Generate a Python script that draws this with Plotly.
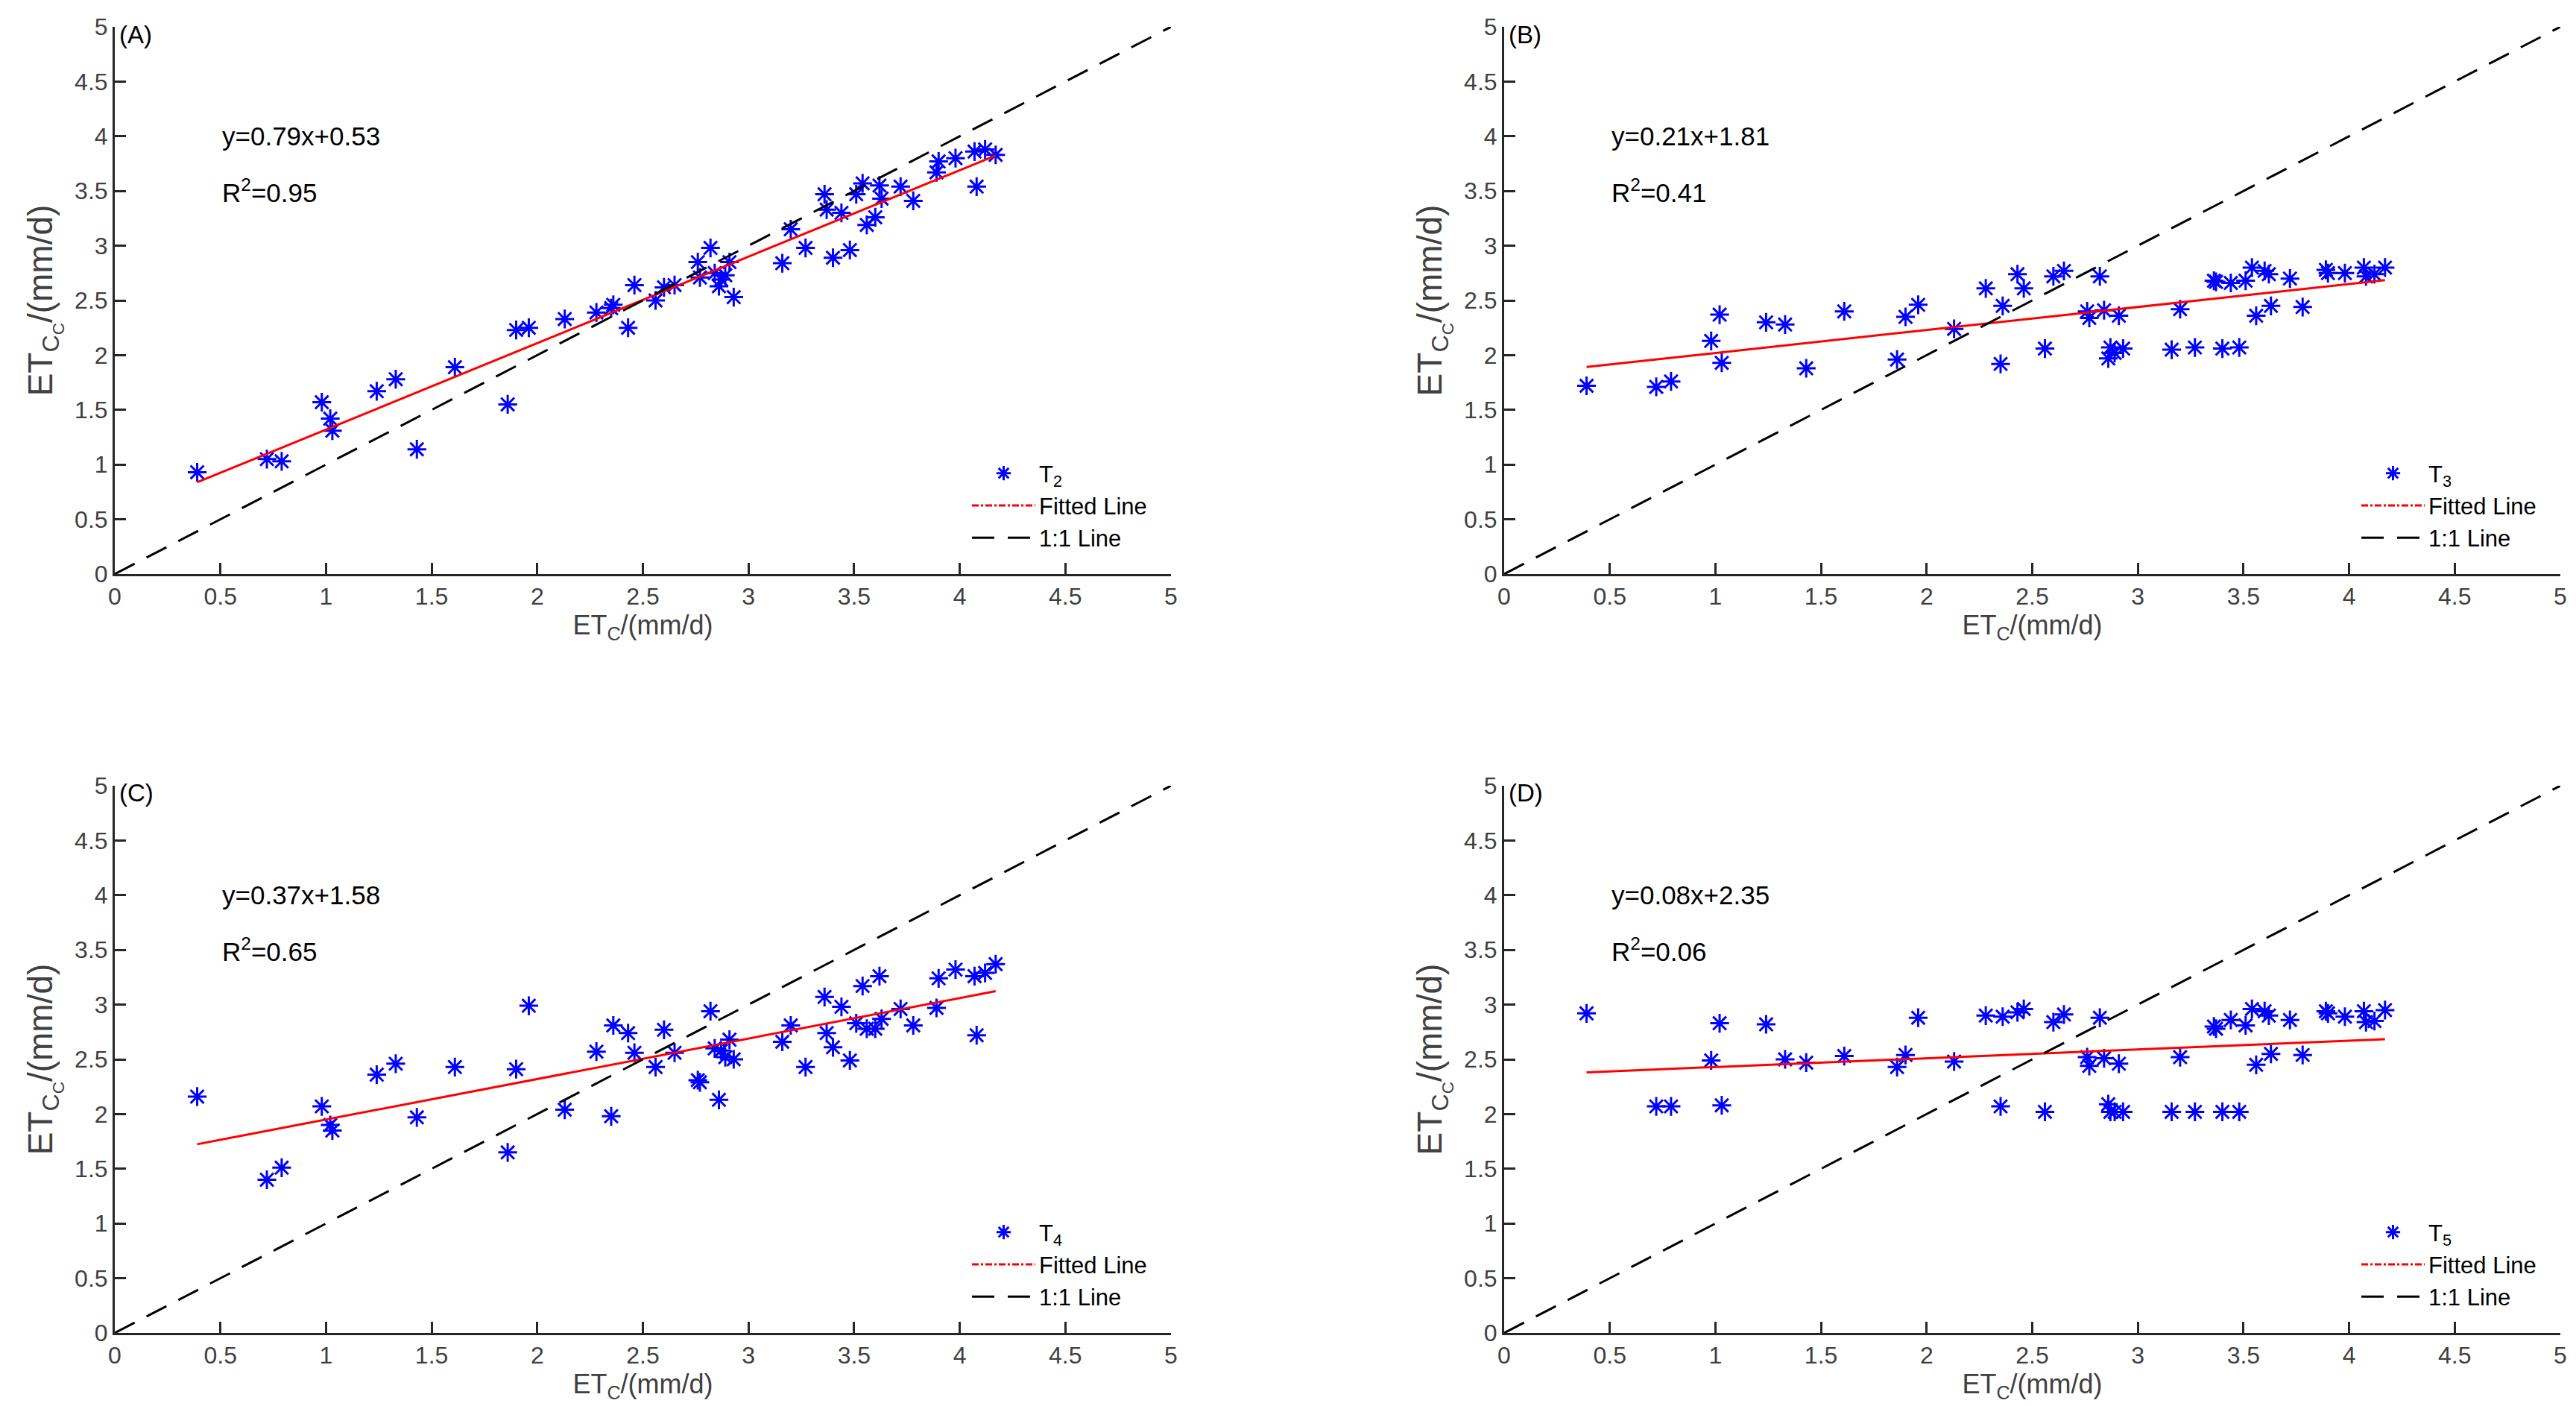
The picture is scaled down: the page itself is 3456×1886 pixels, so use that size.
import plotly.graph_objects as go

# ET_C values (shared x for all panels), mm/d
et_c = [0.39, 0.72, 0.79, 0.98, 1.02, 1.03, 1.24, 1.33, 1.43, 1.61,
        1.86, 1.90, 1.96, 2.13, 2.28, 2.35, 2.36, 2.43, 2.46, 2.56,
        2.60, 2.65, 2.76, 2.77, 2.82, 2.84, 2.86, 2.87, 2.89, 2.91,
        2.93, 3.16, 3.20, 3.27, 3.36, 3.37, 3.40, 3.44, 3.48, 3.51,
        3.54, 3.56, 3.60, 3.62, 3.63, 3.72, 3.78, 3.89, 3.90, 3.98,
        4.07, 4.08, 4.12, 4.17]

# ET_CC for each treatment
etcc_t2 = [0.93, 1.05, 1.03, 1.57, 1.42, 1.31, 1.67, 1.78, 1.14, 1.89,
           1.55, 2.23, 2.25, 2.33, 2.39, 2.43, 2.46, 2.25, 2.64, 2.50,
           2.62, 2.64, 2.85, 2.71, 2.98, 2.75, 2.63, 2.69, 2.73, 2.85,
           2.53, 2.84, 3.15, 2.98, 3.47, 3.33, 2.89, 3.30, 2.96, 3.47,
           3.57, 3.19, 3.26, 3.55, 3.43, 3.54, 3.41, 3.67, 3.77, 3.80,
           3.86, 3.54, 3.88, 3.83]
etcc_t3 = [1.72, 1.71, 1.76, 2.13, 2.37, 1.93, 2.30, 2.28, 1.88, 2.40,
           1.96, 2.35, 2.46, 2.24, 2.61, 1.92, 2.45, 2.74, 2.61, 2.06,
           2.72, 2.77, 2.40, 2.34, 2.72, 2.41, 1.97, 2.07, 2.02, 2.36,
           2.06, 2.05, 2.42, 2.07, 2.68, 2.67, 2.06, 2.66, 2.07, 2.68,
           2.80, 2.36, 2.77, 2.74, 2.45, 2.70, 2.44, 2.78, 2.75, 2.75,
           2.80, 2.72, 2.74, 2.80]
etcc_t4 = [2.16, 1.40, 1.51, 2.07, 1.90, 1.85, 2.36, 2.46, 1.97, 2.43,
           1.65, 2.41, 2.99, 2.04, 2.57, 1.98, 2.81, 2.74, 2.56, 2.43,
           2.77, 2.56, 2.31, 2.29, 2.94, 2.60, 2.13, 2.58, 2.52, 2.68,
           2.50, 2.66, 2.81, 2.43, 3.07, 2.74, 2.61, 2.98, 2.49, 2.83,
           3.17, 2.78, 2.78, 3.26, 2.87, 2.96, 2.81, 2.97, 3.24, 3.32,
           3.26, 2.72, 3.29, 3.37]
etcc_t5 = [2.92, 2.07, 2.07, 2.49, 2.83, 2.08, 2.82, 2.50, 2.47, 2.53,
           2.43, 2.54, 2.88, 2.48, 2.90, 2.07, 2.89, 2.93, 2.96, 2.02,
           2.84, 2.91, 2.52, 2.44, 2.88, 2.51, 2.09, 2.02, 2.02, 2.46,
           2.02, 2.02, 2.52, 2.02, 2.80, 2.78, 2.02, 2.86, 2.02, 2.81,
           2.96, 2.45, 2.94, 2.90, 2.55, 2.86, 2.54, 2.94, 2.92, 2.89,
           2.94, 2.84, 2.85, 2.95]

panel_labels = ['(A)', '(B)', '(C)', '(D)']
treatments = ['T<sub>2</sub>', 'T<sub>3</sub>', 'T<sub>4</sub>', 'T<sub>5</sub>']
slopes = [0.79, 0.21, 0.37, 0.08]
intercepts = [0.53, 1.81, 1.58, 2.35]
r_squared = [0.95, 0.41, 0.65, 0.06]
one_to_one = [0, 5]
tick_vals = [0, 0.5, 1, 1.5, 2, 2.5, 3, 3.5, 4, 4.5, 5]
tick_text = ['0', '0.5', '1', '1.5', '2', '2.5', '3', '3.5', '4', '4.5', '5']

series = [etcc_t2, etcc_t3, etcc_t4, etcc_t5]

W, H = 3456, 1886
font_family = 'Liberation Sans, Arial, sans-serif'
axis_col = '#262626'

# pixel boxes of the four plot areas (left, right, top, bottom)
boxes = [(146, 1563, 28, 762), (2010, 3427, 28, 762),
         (146, 1563, 1046, 1780), (2010, 3427, 1046, 1780)]

fig = go.Figure()
layout = dict(width=W, height=H, margin=dict(l=0, r=0, t=0, b=0),
              plot_bgcolor='white', paper_bgcolor='white',
              font=dict(family=font_family, color='black'))
annotations = []

for i in range(4):
    sfx = '' if i == 0 else str(i + 1)
    xa, ya = 'x' + sfx, 'y' + sfx
    leg = 'legend' + sfx
    l, r, t, b = boxes[i]

    # data points
    fig.add_trace(go.Scatter(
        x=et_c, y=series[i], mode='markers', name=treatments[i],
        marker=dict(symbol='asterisk-open', size=21, color='#0000ff',
                    line=dict(color='#0000ff', width=3)),
        xaxis=xa, yaxis=ya, legend=leg))

    # fitted line (drawn solid, legend entry shown dash-dot like the original)
    x_fit = [min(et_c), max(et_c)]
    y_fit = [slopes[i] * v + intercepts[i] for v in x_fit]
    fig.add_trace(go.Scatter(
        x=x_fit, y=y_fit, mode='lines', showlegend=False,
        line=dict(color='#ff0000', width=3), xaxis=xa, yaxis=ya))
    fig.add_trace(go.Scatter(
        x=[None], y=[None], mode='lines', name='Fitted Line',
        line=dict(color='#ff0000', width=3, dash='dashdot'),
        xaxis=xa, yaxis=ya, legend=leg))

    # 1:1 line
    fig.add_trace(go.Scatter(
        x=one_to_one, y=one_to_one, mode='lines', name='1:1 Line',
        line=dict(color='black', width=3, dash='30px,18px'),
        xaxis=xa, yaxis=ya, legend=leg))

    common = dict(range=[0, 5], tickvals=tick_vals, ticktext=tick_text,
                  ticks='inside', ticklen=15, tickwidth=3, tickcolor=axis_col,
                  showline=True, linecolor=axis_col, linewidth=3,
                  showgrid=False, zeroline=False, automargin=False,
                  tickfont=dict(size=32, color='#404040', family=font_family))
    layout['xaxis' + sfx] = dict(
        common, domain=[l / W, r / W], anchor=ya,
        title=dict(text='ET<sub>C</sub>/(mm/d)', standoff=2,
                   font=dict(size=36, color='#404040')))
    layout['yaxis' + sfx] = dict(
        common, domain=[(H - b) / H, (H - t) / H], anchor=xa,
        ticklabelstandoff=0,
        title=dict(text='ET<sub>C<sub>C</sub></sub>/(mm/d)', standoff=16,
                   font=dict(size=46, color='#404040')))

    layout[leg] = dict(
        x=(r - 272) / W, y=(H - (b - 162)) / H, xanchor='left', yanchor='top',
        bgcolor='rgba(0,0,0,0)', itemwidth=85, tracegroupgap=0,
        font=dict(size=31, color='black', family=font_family))

    annotations.append(dict(x=0, y=5, xref=xa, yref=ya, text=panel_labels[i],
                            showarrow=False, xanchor='left', yanchor='middle',
                            xshift=4, yshift=-10,
                            font=dict(size=33, color='black')))
    annotations.append(dict(x=0.5, y=4.0, xref=xa, yref=ya,
                            text=f'y={slopes[i]:.2f}x+{intercepts[i]:.2f}',
                            showarrow=False, xanchor='left', yanchor='middle',
                            font=dict(size=35, color='black')))
    annotations.append(dict(x=0.5, y=3.5, xref=xa, yref=ya,
                            text=f'R<sup>2</sup>={r_squared[i]:.2f}',
                            showarrow=False, xanchor='left', yanchor='middle',
                            font=dict(size=35, color='black')))

layout['annotations'] = annotations
fig.update_layout(**layout)
fig.write_html('out.html')
